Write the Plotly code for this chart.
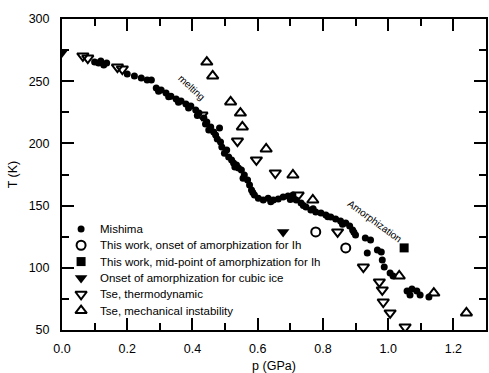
import plotly.graph_objects as go

# ---- data ----
mishima_p = [0.100, 0.112, 0.119, 0.128, 0.137,
             0.200, 0.222, 0.243, 0.261, 0.274,
             0.289, 0.304, 0.319, 0.334, 0.350, 0.365, 0.380, 0.395, 0.410, 0.420,
             0.435, 0.444, 0.450, 0.456, 0.465, 0.471, 0.483, 0.486, 0.490, 0.505,
             0.511, 0.520, 0.526, 0.535, 0.541, 0.550, 0.559, 0.569, 0.575, 0.581,
             0.590, 0.602, 0.617, 0.632, 0.648, 0.663, 0.678, 0.693, 0.708, 0.718,
             0.733, 0.748, 0.763, 0.778, 0.794, 0.809, 0.824, 0.839, 0.854, 0.870,
             0.882, 0.891, 0.900, 0.930, 0.946, 0.936, 0.967, 0.979, 0.982, 0.988,
             1.006, 1.015, 1.058, 1.067, 1.073, 1.088, 1.098, 1.125,
             0.296, 0.327, 0.357, 0.388, 0.415, 0.440, 0.476, 0.498, 0.530, 0.555,
             0.585, 0.640, 0.700, 0.740, 0.770, 0.815, 0.860, 0.895]
mishima_T = [265.4, 264.6, 266.2, 263.0, 264.6,
             255.8, 254.2, 252.6, 251.0, 251.0,
             244.5, 243.0, 240.5, 238.0, 235.7, 234.0, 231.7, 230.0, 226.8, 224.4,
             220.4, 217.2, 210.8, 213.2, 209.2, 206.8, 212.4, 201.1, 197.1, 194.7,
             189.0, 186.7, 184.2, 182.6, 180.2, 178.6, 174.6, 170.6, 166.6, 162.5,
             158.5, 156.0, 154.5, 156.0, 154.5, 155.3, 156.9, 157.7, 158.5, 154.5,
             152.0, 148.9, 146.5, 144.9, 144.0, 142.4, 140.8, 139.2, 137.6, 136.0,
             133.6, 130.4, 126.4, 124.0, 122.3, 111.9, 114.3, 112.7, 106.3, 100.6,
             95.8, 93.4, 81.4, 78.1, 83.0, 81.4, 78.1, 76.5,
             242.0, 237.5, 233.0, 228.5, 222.5, 215.5, 203.5, 192.0, 181.0, 172.0,
             160.5, 153.0, 155.0, 150.0, 147.5, 141.0, 135.0, 128.5]

onset_ih_p = [0.778, 0.870]
onset_ih_T = [128.8, 116.0]

mid_ih_p = [1.049]
mid_ih_T = [116.0]

cubic_p = [0.0, 0.678]
cubic_T = [273.0, 128.8]

tse_thermo_p = [0.064, 0.079, 0.170, 0.185, 0.429, 0.538, 0.596, 0.654, 0.724,
                0.845, 0.924, 0.973, 0.982, 0.985, 1.006, 1.052]
tse_thermo_T = [270.3, 268.6, 261.4, 259.8, 222.8, 201.9, 186.7, 176.2, 158.5,
                128.8, 100.6, 88.6, 82.2, 72.5, 63.7, 52.4]

tse_mech_p = [0.444, 0.462, 0.517, 0.547, 0.553, 0.626, 0.708, 0.769, 1.034, 1.140, 1.240]
tse_mech_T = [265.4, 254.2, 233.3, 224.4, 213.2, 195.5, 174.6, 154.5, 93.4, 79.7, 63.7]

names = ["Mishima",
         "This work, onset of amorphization for Ih",
         "This work, mid-point of amorphization for Ih",
         "Onset of amorphization for cubic ice",
         "Tse, thermodynamic",
         "Tse, mechanical instability"]

FONT = "Liberation Sans, Arial, sans-serif"

styles = [
    dict(symbol="circle", size=7, color="black"),
    dict(symbol="circle-open", size=9, color="black", line=dict(width=2, color="black")),
    dict(symbol="square", size=9, color="black"),
    dict(symbol="triangle-down", size=11, color="black"),
    dict(symbol="triangle-down-open", size=10, color="black", line=dict(width=2, color="black")),
    dict(symbol="triangle-up-open", size=10, color="black", line=dict(width=2, color="black")),
]
series = [(mishima_p, mishima_T), (onset_ih_p, onset_ih_T), (mid_ih_p, mid_ih_T),
          (cubic_p, cubic_T), (tse_thermo_p, tse_thermo_T), (tse_mech_p, tse_mech_T)]

fig = go.Figure()
for (px, ty), nm, st in zip(series, names, styles):
    fig.add_trace(go.Scatter(x=px, y=ty, mode="markers", name=nm, marker=st,
                             showlegend=False))

# ---- hand-built legend (tighter row spacing than plotly's legend allows) ----
LEG_X_MARK = 0.045
LEG_X_TEXT = 0.085
LEG_Y_TOP = 0.325
LEG_STEP = 0.0525
for i, (nm, st) in enumerate(zip(names, styles)):
    yy = LEG_Y_TOP - i * LEG_STEP
    fig.add_trace(go.Scatter(x=[LEG_X_MARK], y=[yy], mode="markers", marker=st,
                             xaxis="x2", yaxis="y2", showlegend=False,
                             hoverinfo="skip"))
    fig.add_annotation(x=LEG_X_TEXT, y=yy, xref="x2", yref="y2", text=nm,
                       showarrow=False, xanchor="left", yanchor="middle",
                       font=dict(size=11.5, color="black", family=FONT))

fig.add_annotation(x=0.398, y=245.3, text="melting", showarrow=False,
                   textangle=43, font=dict(size=10, color="black", family=FONT))
fig.add_annotation(x=0.961, y=137.6, text="Amorphization", showarrow=False,
                   textangle=36, font=dict(size=10, color="black", family=FONT))

axis_common = dict(showline=True, linewidth=2, linecolor="black", mirror="ticks",
                   ticks="inside", ticklen=12, tickwidth=2, tickcolor="black",
                   showgrid=False, zeroline=False,
                   tickfont=dict(size=12.5, color="black", family=FONT))

fig.update_layout(
    xaxis=dict(range=[0, 1.3], dtick=0.2, tick0=0, tickformat=".1f",
               ticklabelstandoff=6,
               minor=dict(dtick=0.1, ticks="inside", ticklen=7, tickwidth=2,
                          tickcolor="black", showgrid=False),
               title=dict(text="p (GPa)", standoff=6,
                          font=dict(size=12.5, color="black", family=FONT)),
               **axis_common),
    yaxis=dict(range=[50, 300], dtick=50, tick0=0, ticklabelstandoff=8,
               minor=dict(dtick=25, ticks="inside", ticklen=7, tickwidth=2,
                          tickcolor="black", showgrid=False),
               title=dict(text="T (K)", standoff=8,
                          font=dict(size=12.5, color="black", family=FONT)),
               **axis_common),
    xaxis2=dict(overlaying="x", range=[0, 1], visible=False, fixedrange=True),
    yaxis2=dict(overlaying="y", range=[0, 1], visible=False, fixedrange=True),
    width=489, height=373,
    margin=dict(l=62, r=1, t=19, b=43),
    plot_bgcolor="white", paper_bgcolor="white",
    font=dict(family=FONT, color="black"),
    showlegend=False,
)

fig.write_html("out.html")
